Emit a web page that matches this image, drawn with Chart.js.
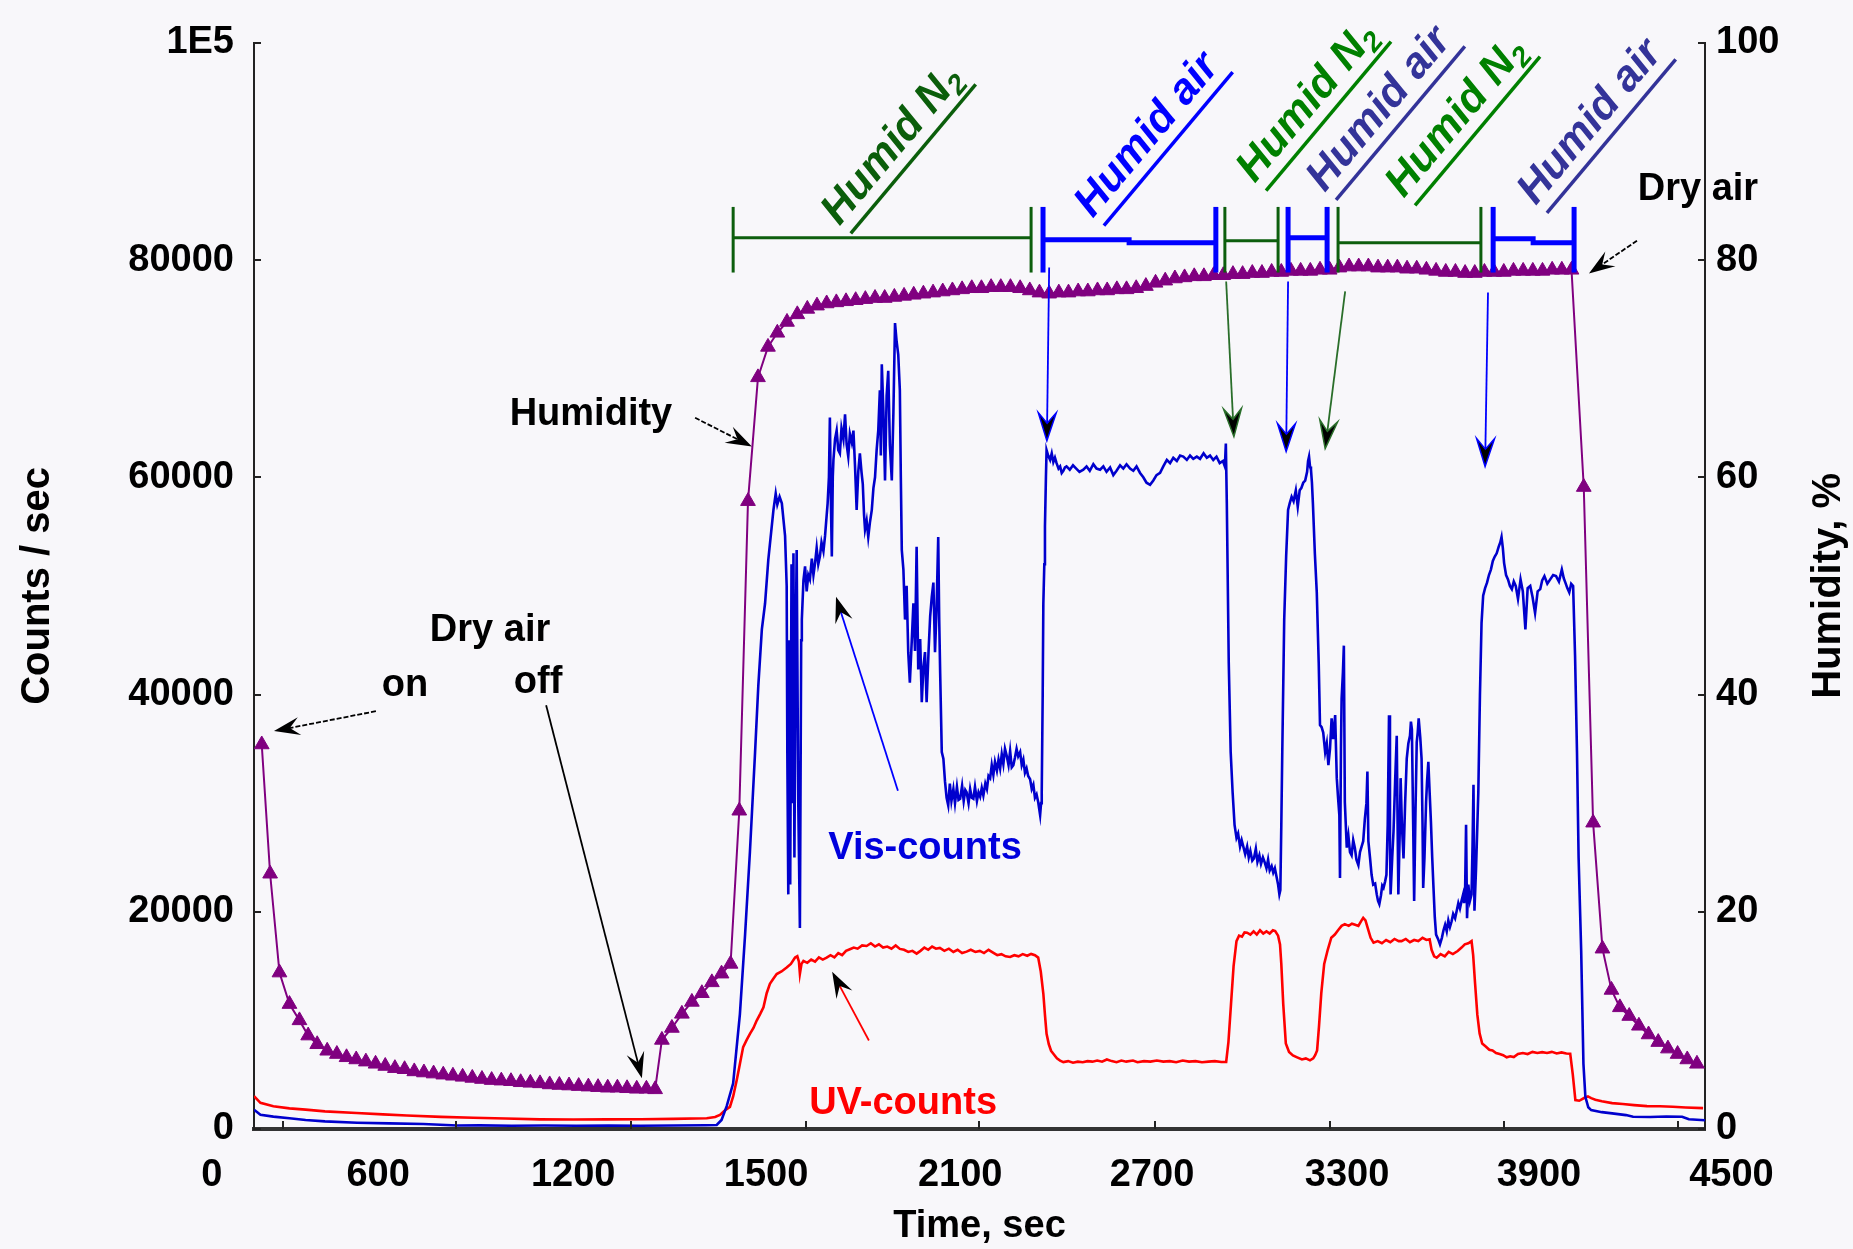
<!DOCTYPE html>
<html><head><meta charset="utf-8">
<script src="https://cdn.jsdelivr.net/npm/chart.js@4.4.0/dist/chart.umd.min.js"></script>
<style>html,body{margin:0;padding:0;background:#f8f7fa;}canvas{display:block;}</style>
</head><body>
<canvas id="c" width="1853" height="1249"></canvas>
<script>
// ---------------- data (time in s, counts/s, humidity %) ----------------
const humidity = [
[24,35.4],[50,23.5],[79,14.4],[110,11.5],[141,10.0],[168,8.6],[196,7.8],[227,7.2],[257,6.9],[287,6.6],[317,6.4],[347,6.2],[377,6.0],[407,5.8],[437,5.6],[467,5.5],[497,5.3],[527,5.2],[557,5.1],[587,5.0],[617,4.9],[647,4.8],[677,4.7],[707,4.6],[737,4.5],[767,4.45],[797,4.4],[827,4.3],[857,4.25],[887,4.2],[917,4.1],[947,4.05],[977,4.0],[1007,3.95],[1037,3.9],[1067,3.85],[1097,3.8],[1127,3.8],[1157,3.75],[1187,3.7],[1217,3.7],[1244,3.65],
[1265,8.2],[1296,9.3],[1327,10.6],[1358,11.7],[1389,12.5],[1420,13.5],[1450,14.3],[1478,15.2],[1505,29.3],[1532,57.8],[1563,69.2],[1594,72.0],[1623,73.3],[1653,74.3],[1685,75.0],[1716,75.5],
[1746,75.8],[1776,76.0],[1806,76.1],[1836,76.2],[1866,76.3],[1896,76.4],[1926,76.5],[1956,76.5],[1986,76.6],[2016,76.7],[2046,76.8],[2076,76.9],[2106,77.0],[2136,77.1],[2166,77.2],[2196,77.3],[2226,77.4],[2256,77.4],[2286,77.5],[2316,77.5],[2346,77.5],[2376,77.4],[2406,77.2],[2436,77.0],[2466,76.9],[2496,77.0],[2526,77.0],[2556,77.1],[2586,77.1],[2616,77.2],[2646,77.2],[2676,77.3],[2706,77.3],[2736,77.4],[2766,77.6],[2796,77.9],[2826,78.1],[2856,78.3],[2886,78.4],[2916,78.5],[2946,78.5],[2976,78.6],[3006,78.6],[3036,78.7],[3066,78.7],[3096,78.8],[3126,78.8],[3156,78.9],[3186,78.9],[3216,79.0],[3246,79.0],[3276,79.0],[3306,79.1],[3336,79.1],[3366,79.3],[3396,79.4],[3426,79.4],[3456,79.4],[3486,79.3],[3516,79.3],[3546,79.3],[3576,79.2],[3606,79.2],[3636,79.1],[3666,79.0],[3696,78.9],[3726,78.9],[3756,78.8],[3786,78.8],[3816,78.9],[3846,78.9],[3876,78.9],[3906,79.0],[3936,79.0],[3966,79.0],[3996,79.0],[4026,79.1],[4056,79.1],[4086,79.1],
[4124,59.1],[4153,28.2],[4182,16.6],[4210,12.8],[4236,11.2],[4265,10.4],[4295,9.5],[4325,8.7],[4355,8.0],[4385,7.4],[4415,6.9],[4445,6.4],[4475,6.0]
];

const visCounts = [
[0,1780],[20,1300],[60,1140],[110,990],[160,830],[220,700],[320,580],[420,520],[525,460],[630,320],[700,330],[800,300],[900,320],[1000,300],[1100,310],[1200,300],[1300,320],[1400,350],[1435,370],[1450,830],[1466,2100],[1486,4200],[1507,10600],[1523,17900],[1538,25500],[1554,34700],[1564,40800],[1575,46000],[1585,48400],[1595,52400],[1611,57000],[1618,58500],[1623,57500],[1630,58200],[1637,57600],[1647,54600],[1652,50000],[1654,34700],[1657,21600],[1660,45000],[1663,22500],[1667,52000],[1670,30000],[1673,53000],[1676,25000],[1680,45000],[1683,53300],[1688,30000],[1693,18500],[1697,45000],[1699,46900],[1704,50500],[1709,51800],[1714,49500],[1719,51000],[1724,50600],[1730,52500],[1735,51000],[1740,52100],[1745,53500],[1750,52000],[1755,52700],[1760,54000],[1766,53200],[1771,54600],[1776,56500],[1779,57600],[1783,60000],[1786,65500],[1789,58000],[1792,52700],[1795,60000],[1797,61600],[1802,63500],[1807,64300],[1812,62500],[1817,62200],[1822,64500],[1828,63500],[1833,65800],[1838,63000],[1843,61900],[1848,64000],[1854,63200],[1859,64300],[1864,61000],[1869,57000],[1874,60500],[1879,62200],[1884,60500],[1888,59400],[1892,56500],[1895,55200],[1900,56000],[1905,54500],[1910,55800],[1916,57000],[1921,59000],[1926,60000],[1931,62500],[1936,64300],[1941,68000],[1944,62000],[1947,70400],[1952,66000],[1957,59700],[1962,67500],[1967,69800],[1972,63000],[1978,59700],[1983,66000],[1988,74200],[1993,72500],[1998,71300],[2003,68000],[2006,60000],[2009,53300],[2014,51500],[2019,46900],[2024,50000],[2029,43900],[2034,41100],[2040,45000],[2045,48400],[2050,44000],[2055,53600],[2060,42300],[2066,45100],[2071,39300],[2076,42500],[2081,43900],[2086,39300],[2092,44000],[2097,47200],[2102,49000],[2107,50300],[2112,43900],[2117,48000],[2122,54500],[2125,47000],[2128,42000],[2133,34700],[2138,34100],[2143,32000],[2148,30500],[2153,29800],[2158,31800],[2163,30200],[2169,31300],[2174,30000],[2180,31500],[2185,30300],[2190,30400],[2196,31600],[2201,30200],[2206,31200],[2210,31000],[2216,30000],[2221,31300],[2226,30500],[2231,30400],[2236,31500],[2242,30200],[2247,31000],[2252,30600],[2257,31400],[2262,30700],[2268,31800],[2273,31300],[2278,32500],[2283,32300],[2288,33500],[2293,32600],[2298,33800],[2304,33000],[2309,34000],[2314,33200],[2319,34500],[2324,33600],[2329,35000],[2334,34400],[2340,33500],[2345,34800],[2350,33300],[2355,33500],[2360,34200],[2365,35000],[2370,34300],[2376,34700],[2381,33500],[2386,34000],[2391,32800],[2396,33200],[2401,32500],[2407,32200],[2412,31300],[2417,31700],[2422,30500],[2427,30800],[2432,30100],[2435,29500],[2438,28900],[2441,30000],[2443,31000],[2446,40000],[2448,48400],[2451,52000],[2453,55500],[2456,60000],[2458,62500],[2463,62000],[2469,61600],[2474,62200],[2479,61400],[2484,61800],[2489,61300],[2495,60800],[2500,61000],[2505,60400],[2510,60600],[2515,60900],[2520,61000],[2530,60700],[2540,61100],[2550,60800],[2560,60500],[2572,60700],[2582,61000],[2592,60600],[2603,61200],[2613,60800],[2624,60700],[2634,61000],[2644,60500],[2655,60900],[2665,60200],[2675,60600],[2686,61100],[2696,60800],[2706,61200],[2717,60800],[2727,60600],[2737,61000],[2748,60400],[2758,60000],[2768,59500],[2779,59300],[2789,59700],[2799,60200],[2810,60400],[2820,61000],[2831,61600],[2841,61300],[2851,61800],[2862,61500],[2872,62000],[2882,61900],[2893,61600],[2903,62000],[2913,61700],[2924,61900],[2934,61700],[2945,62200],[2955,61800],[2965,62000],[2975,61600],[2985,61900],[2995,61300],[3005,61500],[3011,61000],[3014,63100],[3017,57600],[3023,42950],[3029,34700],[3035,31000],[3041,28000],[3047,26800],[3052,27200],[3058,26000],[3063,26600],[3069,25900],[3074,25300],[3080,26000],[3085,25000],[3090,25600],[3096,24700],[3101,24900],[3107,25800],[3112,24600],[3118,25200],[3123,24400],[3129,25000],[3134,24600],[3140,24000],[3145,24800],[3150,23800],[3156,24200],[3161,23600],[3166,24000],[3172,23100],[3176,22500],[3180,21600],[3183,22000],[3186,28000],[3189,34700],[3195,46900],[3201,52700],[3207,57000],[3212,57600],[3218,58200],[3224,57800],[3231,58800],[3237,57300],[3243,58800],[3248,59000],[3254,59500],[3260,59700],[3266,60500],[3269,61500],[3272,61900],[3275,61000],[3278,60700],[3281,59500],[3284,57600],[3290,53000],[3296,49400],[3302,42950],[3306,37200],[3311,37000],[3316,36500],[3322,34700],[3327,35500],[3332,33500],[3337,35000],[3342,37800],[3347,35900],[3353,38100],[3358,32300],[3362,30500],[3366,28900],[3368,23100],[3371,35000],[3373,39600],[3377,42000],[3380,44500],[3383,30100],[3389,25900],[3394,27000],[3399,25500],[3404,25200],[3409,26600],[3414,25900],[3419,24800],[3425,24300],[3430,25500],[3435,26000],[3440,26500],[3445,28500],[3450,30000],[3453,32900],[3456,26500],[3461,25000],[3466,23400],[3471,22500],[3477,22600],[3482,21600],[3486,21000],[3490,20700],[3495,21500],[3499,22400],[3503,22200],[3508,22800],[3512,23400],[3516,28000],[3520,38100],[3523,26000],[3525,21600],[3530,25000],[3534,27400],[3539,32000],[3544,36200],[3547,27000],[3549,21600],[3553,27000],[3556,32300],[3560,28000],[3565,24900],[3570,30000],[3575,34100],[3580,35500],[3585,36200],[3588,37500],[3591,36800],[3595,28000],[3598,21000],[3602,29000],[3606,35600],[3609,36500],[3612,37800],[3617,36000],[3621,34100],[3624,28000],[3626,22200],[3630,25000],[3635,30100],[3638,32000],[3642,33800],[3646,31000],[3650,28300],[3654,25000],[3658,22200],[3662,19500],[3666,17900],[3672,17500],[3678,17000],[3684,17600],[3689,18300],[3694,18800],[3699,18200],[3704,19200],[3709,18600],[3714,19100],[3719,19800],[3725,19400],[3730,20100],[3735,20800],[3740,20300],[3745,21000],[3750,21600],[3753,20800],[3756,21900],[3759,28000],[3762,19400],[3766,22500],[3771,21000],[3776,21600],[3779,26000],[3782,31700],[3785,20100],[3790,24000],[3794,28000],[3797,31000],[3802,39900],[3807,46600],[3812,49100],[3818,49800],[3824,50300],[3830,51000],[3836,51500],[3842,52300],[3848,52700],[3854,53000],[3860,53600],[3865,54000],[3869,54500],[3873,53500],[3877,52100],[3883,51000],[3889,50600],[3895,50000],[3901,49700],[3907,50400],[3913,50000],[3920,48800],[3928,50600],[3935,49500],[3943,46000],[3950,49800],[3958,50000],[3965,49000],[3973,47500],[3981,49500],[3989,49700],[3995,50500],[4002,50900],[4011,50200],[4020,50600],[4029,51000],[4038,50900],[4047,50400],[4056,51500],[4062,50700],[4067,50300],[4073,49800],[4079,49400],[4085,50200],[4091,50000],[4097,43600],[4103,34700],[4108,25000],[4116,16400],[4123,6000],[4129,2960],[4138,2000],[4147,1740],[4180,1550],[4212,1440],[4255,1280],[4277,1130],[4330,1100],[4380,1150],[4429,1130],[4450,890],[4500,800]
];

const uvCounts = [
[0,3030],[20,2410],[60,2090],[110,1900],[160,1780],[220,1620],[318,1470],[400,1350],[474,1240],[580,1120],[680,1040],[780,960],[887,890],[990,880],[1094,890],[1200,900],[1300,930],[1404,990],[1430,1100],[1445,1300],[1460,1700],[1476,2040],[1486,3000],[1497,4490],[1507,6000],[1517,7540],[1528,8200],[1538,8760],[1549,9300],[1559,9980],[1570,10600],[1580,11200],[1590,12500],[1600,13370],[1610,13800],[1621,14260],[1636,14500],[1652,14860],[1665,15200],[1678,15780],[1685,15900],[1690,15400],[1693,14290],[1698,15200],[1704,15470],[1716,15300],[1728,15600],[1740,15400],[1752,15800],[1764,15600],[1776,15780],[1788,16000],[1800,15800],[1812,16200],[1824,16000],[1836,16400],[1848,16550],[1860,16700],[1872,16600],[1886,16900],[1900,16850],[1913,17100],[1926,16800],[1938,17000],[1951,16700],[1964,16800],[1977,16600],[1990,16900],[2003,16580],[2016,16500],[2029,16300],[2042,16400],[2055,16150],[2067,16400],[2079,16700],[2091,16500],[2103,16800],[2115,16600],[2127,16670],[2141,16400],[2155,16600],[2169,16300],[2182,16500],[2196,16200],[2210,16330],[2223,16500],[2237,16300],[2251,16400],[2264,16200],[2278,16500],[2292,16240],[2305,16000],[2318,16100],[2331,15900],[2345,15840],[2358,16000],[2371,15900],[2384,16100],[2398,15950],[2410,16120],[2422,16000],[2432,15780],[2440,14500],[2448,12450],[2453,10500],[2458,8760],[2465,7800],[2472,7200],[2479,6930],[2490,6500],[2500,6300],[2510,6160],[2525,6250],[2540,6100],[2555,6200],[2570,6150],[2585,6250],[2600,6200],[2615,6300],[2630,6200],[2645,6400],[2660,6250],[2675,6150],[2690,6300],[2705,6200],[2726,6300],[2740,6150],[2760,6250],[2780,6200],[2800,6300],[2820,6200],[2840,6250],[2860,6150],[2880,6300],[2900,6200],[2920,6250],[2940,6150],[2960,6200],[2980,6250],[3000,6170],[3015,6170],[3022,8000],[3030,11500],[3038,15000],[3047,17300],[3055,17800],[3064,17700],[3072,18100],[3080,18070],[3090,17900],[3100,18200],[3110,17900],[3120,18300],[3130,18000],[3140,18200],[3150,18000],[3160,18300],[3167,18220],[3176,17800],[3182,17000],[3186,15200],[3192,11500],[3200,7870],[3210,7100],[3222,6780],[3235,6600],[3250,6400],[3262,6500],[3275,6320],[3285,6500],[3291,6800],[3297,7230],[3303,9500],[3310,12500],[3319,15200],[3330,16500],[3341,17610],[3352,17900],[3362,18300],[3373,18700],[3383,18860],[3395,18700],[3405,18900],[3415,18800],[3425,18700],[3435,19200],[3440,19440],[3447,19200],[3455,18400],[3463,17600],[3472,17150],[3485,17300],[3498,17100],[3511,17400],[3524,17200],[3537,17500],[3550,17300],[3559,17300],[3572,17500],[3585,17200],[3598,17400],[3611,17300],[3624,17600],[3636,17400],[3646,17460],[3652,16500],[3660,15900],[3668,15780],[3680,16100],[3693,15900],[3705,16300],[3718,16100],[3733,16390],[3745,16700],[3755,17000],[3766,17100],[3776,17300],[3781,16000],[3787,13370],[3794,10500],[3801,8800],[3809,7870],[3820,7600],[3831,7300],[3841,7230],[3852,7000],[3863,6900],[3874,6800],[3885,6600],[3896,6700],[3907,6620],[3920,6900],[3935,7000],[3950,6900],[3965,7100],[3980,7000],[3995,7080],[4010,7000],[4025,7100],[4040,6950],[4055,7050],[4070,6950],[4082,6930],[4090,5000],[4098,2660],[4110,2600],[4125,2850],[4137,3000],[4147,2840],[4160,2700],[4180,2550],[4212,2380],[4245,2300],[4280,2200],[4320,2110],[4360,2100],[4400,2050],[4440,1980],[4494,1920]
];

// axis ticks
const xTickValues = [0, 385, 990, 1588, 2190, 2785, 3390, 3985, 4500];
const xTickLabels = ['0', '600', '1200', '1500', '2100', '2700', '3300', '3900', '4500'];
const xTickMarks  = [90, 627, 1170, 1712, 2249, 2795, 3337, 3877, 4416];
const countTickLabels = ['0', '20000', '40000', '60000', '80000', '1E5'];
const humTickLabels = ['0', '20', '40', '60', '80', '100'];

// annotations (data coordinates: time, counts)
const notes = [
  {text: 'Dry air', t: 732, c: 45900, color: '#000'},
  {text: 'on', t: 468, c: 40845, color: '#000'},
  {text: 'off', t: 881, c: 41120, color: '#000'},
  {text: 'Humidity', t: 1045, c: 65754, color: '#000'},
  {text: 'Vis-counts', t: 2081, c: 25826, color: '#0000dd'},
  {text: 'UV-counts', t: 2013, c: 2381, color: '#ff0000'},
  {text: 'Dry air', t: 4478, c: 86452, color: '#000'}
];
const noteArrows = [
  {from: [378, 38464], to: [62, 36632], line: '#000', dash: true},
  {from: [906, 39013], to: [1203, 4671], line: '#000', dash: false},
  {from: [1368, 65480], to: [1544, 62824], line: '#000', dash: true},
  {from: [1997, 31137], to: [1805, 48995], line: '#0000ff', dash: false},
  {from: [1907, 8151], to: [1793, 14470], line: '#ff0000', dash: false},
  {from: [4289, 81781], to: [4140, 78759], line: '#000', dash: true}
];
const dropArrows = [
  {from: [2466, 79310], to: [2459, 63370], color: '#0000ff'},
  {from: [3015, 78030], to: [3039, 63740], color: '#2a6e2a'},
  {from: [3207, 78030], to: [3201, 62370], color: '#0000ff'},
  {from: [3384, 77110], to: [3322, 62640], color: '#2a6e2a'},
  {from: [3827, 77020], to: [3818, 60990], color: '#0000ff'}
];
const capRange = [78850, 84890];
const bars = [
  {color: '#0d5e0d', lw: 3, path: [[1486, 82050], [2410, 82050]]},
  {color: '#0000ff', lw: 5, path: [[2447, 81870], [2714, 81870], [2714, 81600], [2983, 81600]]},
  {color: '#0d5e0d', lw: 3, path: [[3011, 81780], [3176, 81780]]},
  {color: '#0000ff', lw: 5, path: [[3207, 82050], [3328, 82050]]},
  {color: '#0d5e0d', lw: 3, path: [[3362, 81600], [3805, 81600]]},
  {color: '#0000ff', lw: 5, path: [[3843, 81960], [3967, 81960], [3967, 81600], [4094, 81600]]}
];
const phaseLabels = [
  {main: 'Humid N', sub: '2', t: 1972, c: 90756, color: '#0b5e0b'},
  {main: 'Humid air', sub: '', t: 2763, c: 91672, color: '#0000ff'},
  {main: 'Humid N', sub: '2', t: 3260, c: 94694, color: '#008000'},
  {main: 'Humid air', sub: '', t: 3483, c: 94053, color: '#333399'},
  {main: 'Humid N', sub: '2', t: 3722, c: 93320, color: '#008000'},
  {main: 'Humid air', sub: '', t: 4137, c: 92862, color: '#333399'}
];

// ---------------- chart ----------------
const FONT = '"Liberation Sans", Arial, sans-serif';
const toXY = arr => arr.map(p => ({x: p[0], y: p[1]}));

function drawArrowHead(ctx, x1, y1, x2, y2, L, W, fill, stroke) {
  const a = Math.atan2(y2 - y1, x2 - x1), ca = Math.cos(a), sa = Math.sin(a);
  ctx.beginPath();
  ctx.moveTo(x2, y2);
  ctx.lineTo(x2 - ca * L + sa * W, y2 - sa * L - ca * W);
  ctx.lineTo(x2 - ca * L * 0.62, y2 - sa * L * 0.62);
  ctx.lineTo(x2 - ca * L - sa * W, y2 - sa * L + ca * W);
  ctx.closePath();
  ctx.fillStyle = fill; ctx.fill();
  if (stroke) { ctx.lineWidth = 1.5; ctx.strokeStyle = stroke; ctx.stroke(); }
}

const bgPlugin = {
  id: 'bg',
  beforeDraw(chart) {
    const ctx = chart.ctx;
    ctx.save(); ctx.fillStyle = '#f8f7fa'; ctx.fillRect(0, 0, chart.width, chart.height); ctx.restore();
  }
};

const annotPlugin = {
  id: 'annot',
  afterDatasetsDraw(chart) {
    const {ctx, chartArea: ca, scales: {x, y, y2}} = chart;
    const px = t => x.getPixelForValue(t), py = c => y.getPixelForValue(c);
    ctx.save();
    // inward tick marks
    ctx.strokeStyle = '#222'; ctx.lineWidth = 2;
    y.ticks.forEach(tk => { const yy = Math.round(y.getPixelForValue(tk.value)); ctx.beginPath(); ctx.moveTo(ca.left, yy); ctx.lineTo(ca.left + 7, yy); ctx.stroke(); });
    y2.ticks.forEach(tk => { const yy = Math.round(y2.getPixelForValue(tk.value)); ctx.beginPath(); ctx.moveTo(ca.right, yy); ctx.lineTo(ca.right - 7, yy); ctx.stroke(); });
    xTickMarks.forEach(t => { const xx = Math.round(px(t)); ctx.beginPath(); ctx.moveTo(xx, ca.bottom); ctx.lineTo(xx, ca.bottom - 8); ctx.stroke(); });

    // phase bars with end caps
    bars.forEach(b => {
      ctx.strokeStyle = b.color; ctx.lineWidth = b.lw; ctx.lineJoin = 'miter';
      ctx.beginPath();
      b.path.forEach((p, i) => { const X = px(p[0]), Y = py(p[1]); i ? ctx.lineTo(X, Y) : ctx.moveTo(X, Y); });
      ctx.stroke();
      [b.path[0][0], b.path[b.path.length - 1][0]].forEach(t => {
        ctx.beginPath(); ctx.moveTo(px(t), py(capRange[0])); ctx.lineTo(px(t), py(capRange[1])); ctx.stroke();
      });
    });

    // arrows from phase bars down to the Vis curve
    dropArrows.forEach(a => {
      const x1 = px(a.from[0]), y1 = py(a.from[1]), x2 = px(a.to[0]), y2p = py(a.to[1]);
      ctx.strokeStyle = a.color; ctx.lineWidth = 1.8; ctx.setLineDash([]);
      const ang = Math.atan2(y2p - y1, x2 - x1);
      ctx.beginPath(); ctx.moveTo(x1, y1); ctx.lineTo(x2 - Math.cos(ang) * 14, y2p - Math.sin(ang) * 14); ctx.stroke();
      drawArrowHead(ctx, x1, y1, x2, y2p, 28, 9, '#000', a.color);
    });

    // note arrows
    noteArrows.forEach(a => {
      const x1 = px(a.from[0]), y1 = py(a.from[1]), x2 = px(a.to[0]), y2p = py(a.to[1]);
      const ang = Math.atan2(y2p - y1, x2 - x1);
      ctx.strokeStyle = a.line; ctx.lineWidth = 1.8;
      ctx.setLineDash(a.dash ? [5, 2] : []);
      ctx.beginPath(); ctx.moveTo(x1, y1); ctx.lineTo(x2 - Math.cos(ang) * 12, y2p - Math.sin(ang) * 12); ctx.stroke();
      ctx.setLineDash([]);
      drawArrowHead(ctx, x1, y1, x2, y2p, 26, 9, '#000', null);
    });

    // text notes
    ctx.font = 'bold 38px ' + FONT; ctx.textAlign = 'center'; ctx.textBaseline = 'middle';
    notes.forEach(n => { ctx.fillStyle = n.color; ctx.fillText(n.text, px(n.t), py(n.c)); });

    // rotated, underlined phase labels
    phaseLabels.forEach(l => {
      ctx.save();
      ctx.translate(px(l.t), py(l.c));
      ctx.rotate(-50 * Math.PI / 180);
      const mainFont = 'italic bold 43px ' + FONT, subFont = 'italic bold 28px ' + FONT;
      ctx.font = mainFont; const wm = ctx.measureText(l.main).width;
      ctx.font = subFont; const ws = l.sub ? ctx.measureText(l.sub).width : 0;
      const W = wm + ws, x0 = -W / 2, base = 15;
      ctx.fillStyle = l.color; ctx.textAlign = 'left'; ctx.textBaseline = 'alphabetic';
      ctx.font = mainFont; ctx.fillText(l.main, x0, base);
      if (l.sub) { ctx.font = subFont; ctx.fillText(l.sub, x0 + wm, base + 8); }
      ctx.strokeStyle = l.color; ctx.lineWidth = 3.5;
      ctx.beginPath(); ctx.moveTo(x0 + 2, base + 13); ctx.lineTo(x0 + W + 4, base + 13); ctx.stroke();
      ctx.restore();
    });

    // right axis title (reads bottom to top)
    ctx.save();
    ctx.translate(1829, (ca.top + ca.bottom) / 2);
    ctx.rotate(-Math.PI / 2);
    ctx.font = 'bold 40px ' + FONT; ctx.fillStyle = '#000'; ctx.textAlign = 'center'; ctx.textBaseline = 'middle';
    ctx.fillText('Humidity, %', 0, 0);
    ctx.restore();

    ctx.restore();
  }
};

new Chart(document.getElementById('c'), {
  type: 'line',
  data: {
    datasets: [
      {label: 'Humidity', data: toXY(humidity), yAxisID: 'y2', borderColor: '#800080', backgroundColor: '#800080',
       borderWidth: 2, pointStyle: 'triangle', pointRadius: 8.5, pointBorderWidth: 1, pointBackgroundColor: '#800080', pointBorderColor: '#800080', tension: 0, order: 0},
      {label: 'Vis-counts', data: toXY(visCounts), yAxisID: 'y', borderColor: '#0000cd', borderWidth: 2.6, pointRadius: 0, tension: 0, order: 1},
      {label: 'UV-counts', data: toXY(uvCounts), yAxisID: 'y', borderColor: '#ff0000', borderWidth: 2.6, pointRadius: 0, tension: 0, order: 2}
    ]
  },
  options: {
    responsive: false, animation: false, devicePixelRatio: 1,
    layout: {padding: {left: 0, right: 0, top: 37, bottom: 0}},
    plugins: {legend: {display: false}, tooltip: {enabled: false}},
    scales: {
      x: {
        type: 'linear', min: 0, max: 4500,
        afterBuildTicks: s => { s.ticks = xTickValues.map(v => ({value: v})); },
        afterFit: s => { s.height = 120; },
        grid: {display: false, drawTicks: false},
        border: {display: true, color: '#333', width: 4},
        ticks: {
          autoSkip: false, maxRotation: 0, padding: 24, color: '#000',
          font: {family: FONT, size: 38, weight: 'bold'},
          callback: (v, i, arr) => {
            let s = xTickLabels[i];
            if (i === 0) s = s + ' '.repeat(8);
            if (i === arr.length - 1) s = ' '.repeat(5) + s;
            return s;
          }
        },
        title: {display: true, text: 'Time, sec', color: '#000', font: {family: FONT, size: 38, weight: 'bold'}, padding: {top: 0, bottom: 0}}
      },
      y: {
        position: 'left', min: 0, max: 100000,
        afterFit: s => { s.width = 254; },
        grid: {display: false, drawTicks: false},
        border: {display: true, color: '#222', width: 2},
        ticks: {stepSize: 20000, padding: 20, color: '#000', font: {family: FONT, size: 38, weight: 'bold'},
                callback: (v, i) => countTickLabels[i]},
        title: {display: true, text: 'Counts / sec', color: '#000', font: {family: FONT, size: 40, weight: 'bold'}, padding: {top: 14, bottom: 0}}
      },
      y2: {
        position: 'right', min: 0, max: 100,
        afterFit: s => { s.width = 148; },
        grid: {display: false, drawTicks: false},
        border: {display: true, color: '#222', width: 2},
        ticks: {stepSize: 20, padding: 11, color: '#000', font: {family: FONT, size: 38, weight: 'bold'},
                callback: (v, i) => humTickLabels[i]},
        title: {display: false}
      }
    }
  },
  plugins: [bgPlugin, annotPlugin]
});
</script>
</body></html>
